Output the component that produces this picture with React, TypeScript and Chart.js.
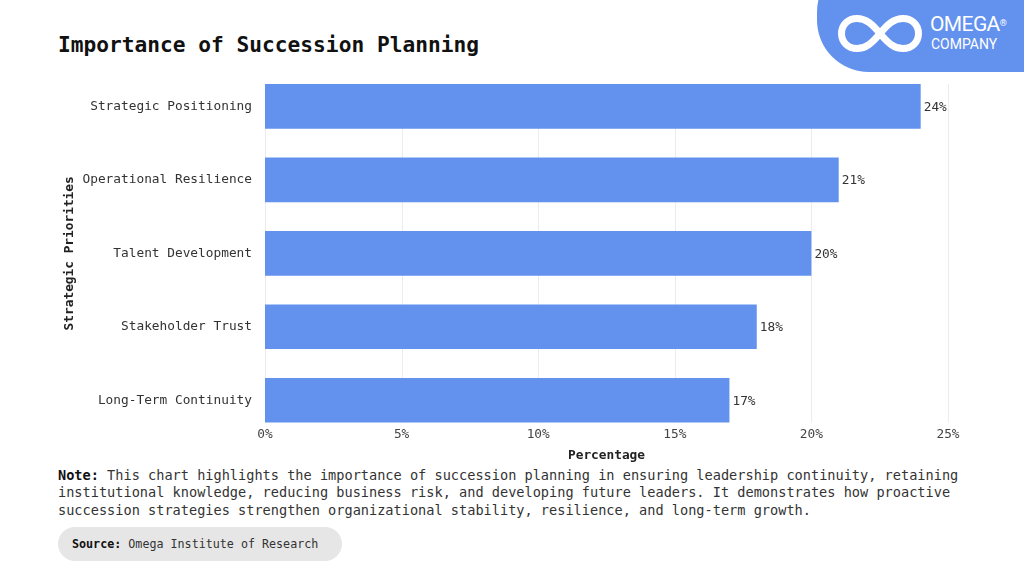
import React, { useEffect, useRef } from "react";
import { Chart, registerables } from "chart.js";

Chart.register(...registerables);

// chart data
const categories = [
  "Strategic Positioning",
  "Operational Resilience",
  "Talent Development",
  "Stakeholder Trust",
  "Long-Term Continuity",
];
const values = [24, 21, 20, 18, 17];
const xMin = 0;
const xMax = 25;
const xStep = 5;

const MONO = '"DejaVu Sans Mono", "Liberation Mono", monospace';
const BAR_BLUE = "#6391ee";

// vertical grid lines only between the first bar's top and the last bar's bottom
const barGrid = {
  id: "barGrid",
  beforeDatasetsDraw(chart: any) {
    const ctx = chart.ctx;
    const xs = chart.scales.x;
    const bars = chart.getDatasetMeta(0).data;
    if (!bars.length) return;
    const top = bars[0].y - bars[0].height / 2;
    const last = bars[bars.length - 1];
    const bottom = last.y + last.height / 2;
    ctx.save();
    ctx.strokeStyle = "#ececec";
    ctx.lineWidth = 1;
    xs.ticks.forEach((t: any) => {
      const x = Math.round(xs.getPixelForValue(t.value)) + 0.5;
      ctx.beginPath();
      ctx.moveTo(x, top);
      ctx.lineTo(x, bottom);
      ctx.stroke();
    });
    ctx.restore();
  },
};

// draws "24%" etc. just right of each bar
const valueLabels = {
  id: "valueLabels",
  afterDatasetsDraw(chart: any) {
    const ctx = chart.ctx;
    const meta = chart.getDatasetMeta(0);
    ctx.save();
    ctx.font = `12.8px ${MONO}`;
    ctx.fillStyle = "#333333";
    ctx.textAlign = "left";
    ctx.textBaseline = "middle";
    meta.data.forEach((bar: any, i: number) => {
      ctx.fillText(`${values[i]}%`, bar.x + 3, bar.y + 1);
    });
    ctx.restore();
  },
};

// x tick labels sit a bit inside the offset area, so draw them here (no clipping)
const xTickLabels = {
  id: "xTickLabels",
  afterDraw(chart: any) {
    const ctx = chart.ctx;
    const xs = chart.scales.x;
    ctx.save();
    ctx.font = `12.8px ${MONO}`;
    ctx.fillStyle = "#444444";
    ctx.textAlign = "center";
    ctx.textBaseline = "middle";
    xs.ticks.forEach((t: any) => {
      ctx.fillText(`${t.value}%`, xs.getPixelForValue(t.value), chart.chartArea.bottom - 2);
    });
    ctx.restore();
  },
};

function BarChart() {
  const canvasRef = useRef<HTMLCanvasElement>(null);

  useEffect(() => {
    if (!canvasRef.current) return;
    const chart = new Chart(canvasRef.current, {
      type: "bar",
      data: {
        labels: categories,
        datasets: [
          {
            data: values,
            backgroundColor: BAR_BLUE,
            borderWidth: 0,
            categoryPercentage: 1,
            barPercentage: 0.607,
          },
        ],
      },
      options: {
        indexAxis: "y",
        responsive: false,
        maintainAspectRatio: false,
        animation: false,
        devicePixelRatio: 1,
        layout: { padding: { left: 0, right: 52, top: 0, bottom: 0 } },
        plugins: {
          legend: { display: false },
          tooltip: { enabled: false },
        },
        scales: {
          x: {
            min: xMin,
            max: xMax,
            border: { display: false },
            grid: { display: false, drawTicks: false },
            ticks: {
              stepSize: xStep,
              display: false,
            },
            title: {
              display: true,
              text: "Percentage",
              color: "#222222",
              font: { family: MONO, size: 12.8, weight: "bold" },
              padding: { top: 4, bottom: 4 },
            },
            afterFit: (scale: any) => {
              scale.height = 30;
            },
          },
          y: {
            border: { display: false },
            grid: { display: false, drawTicks: false },
            ticks: {
              padding: 13,
              color: "#333333",
              font: { family: MONO, size: 12.8 },
            },
            title: {
              display: true,
              text: "Strategic Priorities",
              color: "#222222",
              font: { family: MONO, size: 12.8, weight: "bold" },
              padding: { top: 4, bottom: 4 },
            },
            afterFit: (scale: any) => {
              scale.width = 207;
            },
          },
        },
      },
      plugins: [barGrid, valueLabels, xTickLabels],
    });
    return () => chart.destroy();
  }, []);

  return (
    <canvas
      ref={canvasRef}
      width={942}
      height={418}
      style={{ position: "absolute", left: 58, top: 49, width: 942, height: 418 }}
    />
  );
}

function Logo() {
  return (
    <>
      <div
        style={{
          position: "absolute",
          left: 817,
          top: -40,
          width: 260,
          height: 112,
          borderRadius: 52,
          background: "#6391ee",
        }}
      />
      <svg
        width={100}
        height={70}
        viewBox="0 0 100 70"
        style={{ position: "absolute", left: 830, top: 0 }}
      >
        <path
          d="M50 33.5 C42 24, 36 18.5, 27 18.5 C18 18.5, 11.5 25, 11.5 33.5 C11.5 42, 18 48.5, 27 48.5 C36 48.5, 42 43, 50 33.5 C58 24, 64 18.5, 73 18.5 C82 18.5, 88.5 25, 88.5 33.5 C88.5 42, 82 48.5, 73 48.5 C64 48.5, 58 43, 50 33.5 Z"
          fill="none"
          stroke="#ffffff"
          strokeWidth={7}
          strokeLinejoin="round"
        />
      </svg>
      <div
        style={{
          position: "absolute",
          left: 930,
          top: 13,
          fontFamily: "Roboto, sans-serif",
          fontSize: 21,
          lineHeight: "22px",
          color: "#ffffff",
          letterSpacing: -0.6,
          whiteSpace: "nowrap",
        }}
      >
        OMEGA<sup style={{ fontSize: 9, verticalAlign: "top", position: "relative", top: -1 }}>®</sup>
      </div>
      <div
        style={{
          position: "absolute",
          left: 931,
          top: 36,
          fontFamily: "Roboto, sans-serif",
          fontSize: 14,
          lineHeight: "16px",
          color: "#ffffff",
          whiteSpace: "nowrap",
        }}
      >
        COMPANY
      </div>
    </>
  );
}

export default function App() {
  return (
    <div
      style={{
        position: "fixed",
        left: 0,
        top: 0,
        width: 1024,
        height: 576,
        overflow: "hidden",
        background: "#ffffff",
        fontFamily: MONO,
      }}
    >
      <Logo />
      <div
        style={{
          position: "absolute",
          left: 58,
          top: 33,
          fontSize: 21.2,
          lineHeight: "24px",
          fontWeight: "bold",
          color: "#111111",
          whiteSpace: "nowrap",
        }}
      >
        Importance of Succession Planning
      </div>
      <BarChart />
      <div
        style={{
          position: "absolute",
          left: 58,
          top: 467,
          fontSize: 13.6,
          lineHeight: "17.3px",
          color: "#333333",
          whiteSpace: "nowrap",
        }}
      >
        <b style={{ color: "#111111" }}>Note:</b> This chart highlights the importance of succession planning in ensuring leadership continuity, retaining
        <br />
        institutional knowledge, reducing business risk, and developing future leaders. It demonstrates how proactive
        <br />
        succession strategies strengthen organizational stability, resilience, and long-term growth.
      </div>
      <div
        style={{
          position: "absolute",
          left: 58,
          top: 527,
          width: 284,
          height: 34,
          borderRadius: 17,
          background: "#e6e6e6",
        }}
      />
      <div
        style={{
          position: "absolute",
          left: 72,
          top: 536,
          fontSize: 11.7,
          lineHeight: "16px",
          color: "#333333",
          whiteSpace: "nowrap",
        }}
      >
        <b style={{ color: "#111111" }}>Source:</b> Omega Institute of Research
      </div>
    </div>
  );
}
